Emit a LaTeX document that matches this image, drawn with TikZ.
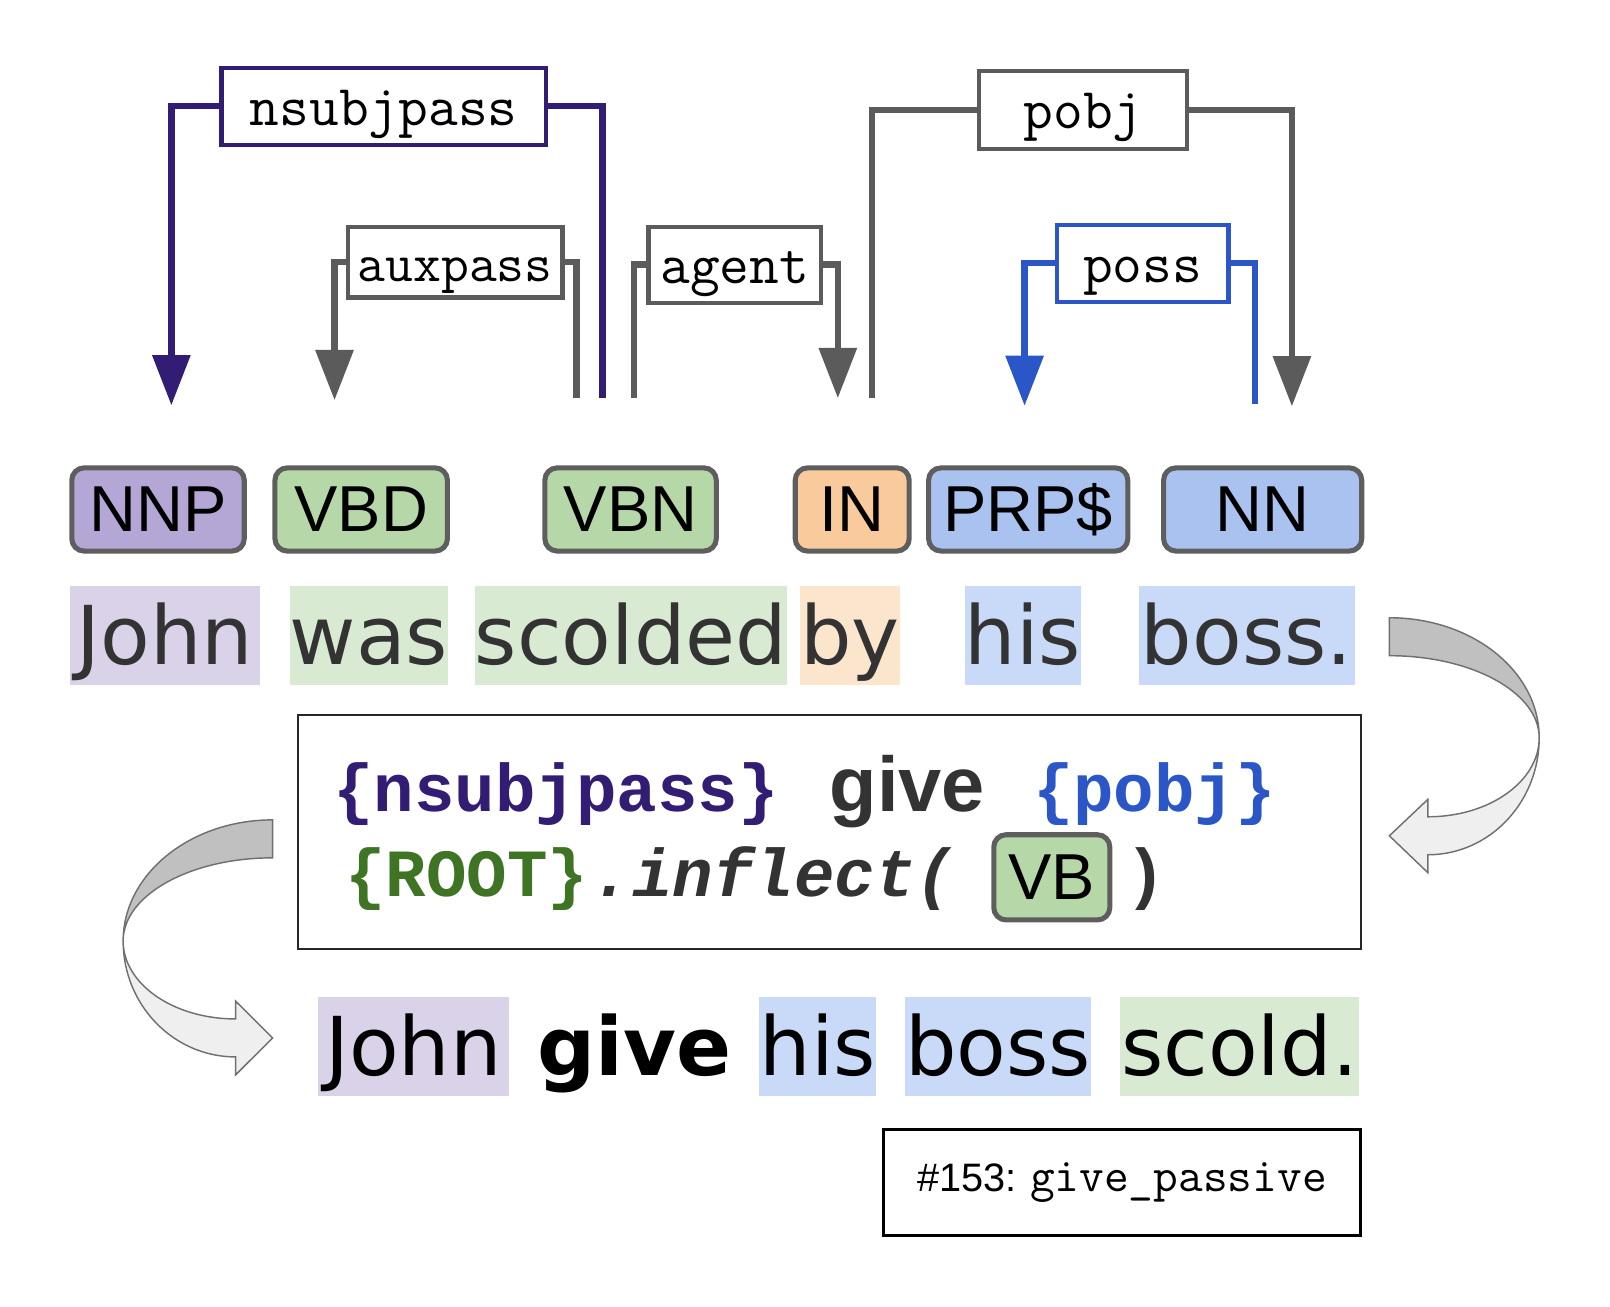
\documentclass[tikz,border=0pt]{standalone}
\usepackage{fontspec}
\usepackage{xcolor}
\usepackage{tikz}
\usetikzlibrary{arrows.meta}
\setmainfont{Liberation Sans}
\newfontfamily\wordfont{DejaVu Sans}
\newfontfamily\codefont{Liberation Mono}
\definecolor{TNNP}{HTML}{b4a7d6}
\definecolor{TVB}{HTML}{b6d7a8}
\definecolor{TIN}{HTML}{f9cb9c}
\definecolor{TNN}{HTML}{a9c2f0}
\definecolor{WNNP}{HTML}{d9d2e9}
\definecolor{WVB}{HTML}{d9ead3}
\definecolor{WIN}{HTML}{fce5cd}
\definecolor{WNN}{HTML}{c9daf8}
\definecolor{DPurple}{HTML}{331c74}
\definecolor{DGray}{HTML}{5b5b5b}
\definecolor{DBlue}{HTML}{2a56c8}
\definecolor{DGreen}{HTML}{3e7424}
\definecolor{TagEdge}{HTML}{5e5e5e}
\definecolor{Ink}{HTML}{333333}
\definecolor{TwistDark}{HTML}{c0c0c0}
\definecolor{TwistLight}{HTML}{efefef}
\definecolor{TwistEdge}{HTML}{707070}
\tikzset{%
  tagbox/.style={draw=TagEdge, line width=1.4pt, rounded corners=0.12cm, minimum height=0.81cm, inner sep=0pt, font=\fontsize{18}{20}\selectfont},%
  wordbox/.style={minimum height=0.96cm, inner sep=0pt, text height=0.76cm, text depth=0.20cm, font=\wordfont\fontsize{22.5}{26}\selectfont},%
  deplabel/.style={fill=white, line width=1.2pt, inner sep=0pt, text height=0.45cm, text depth=0.08cm, font=\ttfamily\fontsize{16}{18}\selectfont},%
  depline/.style={line width=1.8pt},%
  deparrow/.style={depline, -{Triangle[width=0.36cm,length=0.49cm]}},%
  codetext/.style={anchor=base west, inner sep=0pt, font=\codefont\bfseries\fontsize{18.7}{20}\selectfont},%
  twistdark/.style={draw=TwistEdge, fill=TwistDark, line width=0.4pt},%
  twistlight/.style={draw=TwistEdge, fill=TwistLight, line width=0.4pt}%
}

\begin{document}
\begin{tikzpicture}[x=0.01cm, y=-0.01cm]%
\useasboundingbox[fill=white] (0,0) rectangle (1569,1273);%
\node[deplabel, draw=DPurple, minimum width=3.16cm, minimum height=0.75cm] (nsubjpass) at (374,103.5) {nsubjpass};%
\node[deplabel, draw=DGray, minimum width=2.09cm, minimum height=0.69cm, font=\ttfamily\fontsize{15}{17}\selectfont] (auxpass) at (443.5,255.5) {auxpass};%
\node[deplabel, draw=DGray, minimum width=1.68cm, minimum height=0.74cm] (agent) at (716,258) {agent};%
\node[deplabel, draw=DGray, minimum width=2.03cm, minimum height=0.76cm] (pobj) at (1055.5,107) {pobj};%
\node[deplabel, draw=DBlue, minimum width=1.67cm, minimum height=0.75cm] (poss) at (1113.5,256.5) {poss};%
\coordinate (nsubjpassL) at (167,395);%
\coordinate (nsubjpassR) at (587,388);%
\coordinate (auxpassL) at (326,390);%
\coordinate (auxpassR) at (562,388);%
\coordinate (agentL) at (618,388);%
\coordinate (agentR) at (816.5,388);%
\coordinate (pobjL) at (850,388);%
\coordinate (pobjR) at (1259,396);%
\coordinate (possL) at (998.5,395.5);%
\coordinate (possR) at (1223,394);%
\draw[deparrow, DPurple] (nsubjpass.west) -| (nsubjpassL);%
\draw[depline, DPurple] (nsubjpass.east) -| (nsubjpassR);%
\draw[deparrow, DGray] (auxpass.west) -| (auxpassL);%
\draw[depline, DGray] (auxpass.east) -| (auxpassR);%
\draw[depline, DGray] (agent.west) -| (agentL);%
\draw[deparrow, DGray] (agent.east) -| (agentR);%
\draw[depline, DGray] (pobj.west) -| (pobjL);%
\draw[deparrow, DGray] (pobj.east) -| (pobjR);%
\draw[deparrow, DBlue] (poss.west) -| (possL);%
\draw[depline, DBlue] (poss.east) -| (possR);%
\node[tagbox, fill=TNNP, minimum width=1.68cm] (NNP) at (154,496.5) {NNP};%
\node[tagbox, fill=TVB, minimum width=1.68cm] (VBD) at (352,496.5) {VBD};%
\node[tagbox, fill=TVB, minimum width=1.67cm] (VBN) at (614.5,496.5) {VBN};%
\node[tagbox, fill=TIN, minimum width=1.11cm] (IN) at (830.5,496.5) {IN};%
\node[tagbox, fill=TNN, minimum width=1.94cm] (PRPS) at (1002,496.5) {PRP\$};%
\node[tagbox, fill=TNN, minimum width=1.93cm] (NN) at (1230.5,496.5) {NN};%
\node[wordbox, fill=WNNP, text=Ink, minimum width=1.85cm] (john) at (160.5,619.5) {John};%
\node[wordbox, fill=WVB, text=Ink, minimum width=1.53cm] (was) at (359.5,619.5) {was};%
\node[wordbox, fill=WVB, text=Ink, minimum width=3.00cm] (scolded) at (615,619.5) {scolded};%
\node[wordbox, fill=WIN, text=Ink, minimum width=0.97cm] (by) at (828.5,619.5) {by};%
\node[wordbox, fill=WNN, text=Ink, minimum width=1.12cm] (his) at (997,619.5) {his};%
\node[wordbox, fill=WNN, text=Ink, minimum width=2.10cm] (boss) at (1215,619.5) {boss.};%
\node[draw=black!85, line width=0.6pt, minimum width=10.35cm, minimum height=2.28cm, inner sep=0pt] (template) at (808.5,811) {};%
\node[codetext, text=DPurple] (tplsubj) at (324,791) {\{nsubjpass\}};%
\node[anchor=base west, inner sep=0pt, text=Ink, font=\bfseries\fontsize{21.5}{24}\selectfont] (tplgive) at (808,791) {give};%
\node[codetext, text=DBlue] (tplobj) at (1006,791) {\{pobj\}};%
\node[codetext, text=DGreen] (tplroot) at (336,874) {\{ROOT\}};%
\node[codetext, text=Ink, font=\codefont\bfseries\itshape\fontsize{18.7}{20}\selectfont] (tplinflect) at (576,874) {.inflect(};%
\node[tagbox, fill=TVB, minimum width=1.13cm, minimum height=0.83cm] (VB) at (1025,855) {VB};%
\node[codetext, text=Ink] (tplclose) at (1096,874) {)};%
\node[wordbox, fill=WNNP, text=black, minimum width=1.86cm] (john2) at (403,1020) {John};%
\node[wordbox, text=black, font=\wordfont\bfseries\fontsize{22.5}{26}\selectfont] (give2) at (618.5,1020) {give};%
\node[wordbox, fill=WNN, text=black, minimum width=1.14cm] (his2) at (797,1020) {his};%
\node[wordbox, fill=WNN, text=black, minimum width=1.81cm] (boss2) at (972.5,1020) {boss};%
\node[wordbox, fill=WVB, text=black, minimum width=2.32cm] (scold2) at (1208,1020) {scold.};%
\node[draw=black, line width=0.9pt, minimum width=4.65cm, minimum height=1.03cm, inner sep=0pt] (rule) at (1093.5,1152.5) {{\fontsize{11}{13}\selectfont\#153:} {\ttfamily\fontsize{13.3}{15}\selectfont give\_passive}};%
\filldraw[twistdark] (1354,602) .. controls (1434.6,602) and (1500,654) .. (1500,719) .. controls (1500,675) and (1434.6,639) .. (1354,639) -- cycle;%
\filldraw[twistlight] (1500,719) .. controls (1500,782) and (1451.5,833) .. (1391.5,833) -- (1391.5,850.5) -- (1354,814.5) -- (1391.5,779) -- (1391.5,796) .. controls (1451.5,796) and (1500,761.5) .. (1500,719) -- cycle;%
\filldraw[twistdark] (265.7,799) .. controls (185.3,799) and (120,852) .. (120,917) .. controls (120,872.3) and (185.3,836) .. (265.7,836) -- cycle;%
\filldraw[twistlight] (120,917) .. controls (120,979.4) and (169.1,1030) .. (229.6,1030) -- (229.6,1047.5) -- (265.7,1011.5) -- (229.6,975.6) -- (229.6,993) .. controls (169.1,993) and (120,959) .. (120,917) -- cycle;%
\end{tikzpicture}
\end{document}
